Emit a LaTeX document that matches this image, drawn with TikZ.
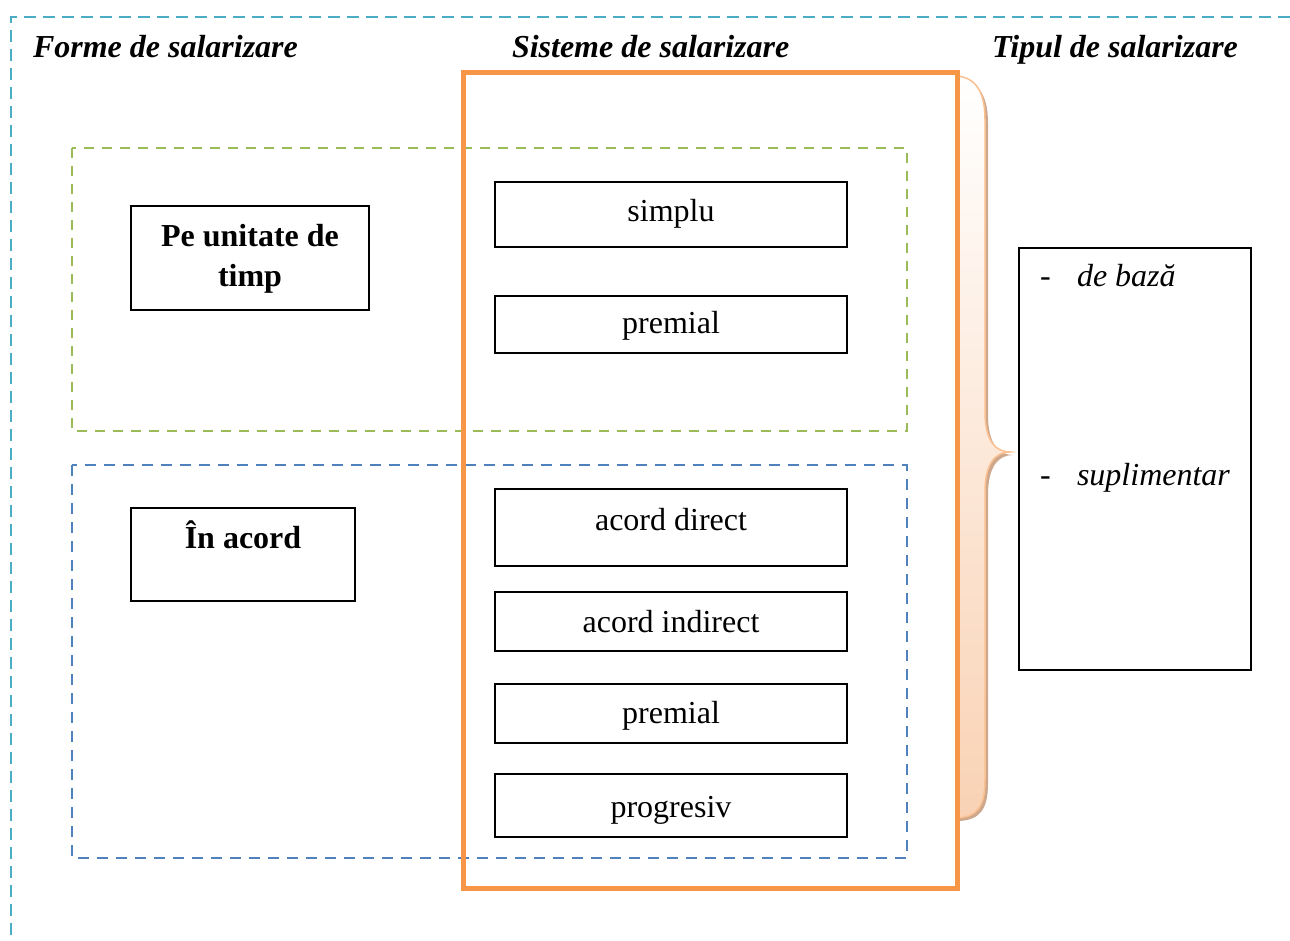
\documentclass[tikz,border=0pt]{standalone}
\usepackage{fontspec}
\setmainfont{Liberation Serif}
\definecolor{frameaqua}{RGB}{75,172,198}
\definecolor{timegreen}{RGB}{155,187,89}
\definecolor{piecblue}{RGB}{79,129,189}
\definecolor{sysorange}{RGB}{247,150,70}
\definecolor{bracefill}{RGB}{249,210,180}
\definecolor{braceedge}{RGB}{250,192,144}
\definecolor{braceshadow}{RGB}{205,168,140}
\begin{document}
\begin{tikzpicture}[x=1pt,y=-1pt,
  every node/.style={font=\fontsize{32}{40}\selectfont, inner sep=0pt, outer sep=0pt},
  box/.style={draw=black, line width=2pt, inner sep=0pt, minimum width=#1},
  box/.default=352pt,
  lbl/.style={anchor=base},
  boldlbl/.style={anchor=base, font=\fontsize{32}{40}\selectfont\bfseries},
  head/.style={anchor=base west, font=\fontsize{32}{40}\selectfont\bfseries\itshape},
  item/.style={anchor=base west, font=\fontsize{32}{40}\selectfont\itshape},
  bullet/.style={anchor=base west},
  outerframe/.style={draw=frameaqua, line width=2pt, dash pattern=on 12pt off 7pt},
  timegroup/.style={draw=timegreen, line width=2.5pt, dash pattern=on 10pt off 8pt},
  piecegroup/.style={draw=piecblue, line width=2.5pt, dash pattern=on 11pt off 8pt},
  sysframe/.style={draw=sysorange, line width=5pt},
]
\useasboundingbox (0,0) rectangle (1290,941);

% outer dashed frame (open to the right and bottom)
\draw[outerframe] (1290,17) -- (11,17) -- (11,941);

% column headings
\node[head] (hforme) at (33,58) {Forme de salarizare};
\node[head] (hsist)  at (512,58) {Sisteme de salarizare};
\node[head] (htip)   at (992,58) {Tipul de salarizare};

% grouping frames
\draw[timegroup]  (72,148) rectangle (907,431);
\draw[piecegroup] (72,465) rectangle (907,858);

% curly brace joining the systems to the pay types
\fill[braceshadow] (959,79) .. controls (980,81) and (988,98) .. (988,123) -- (988,415)
  .. controls (988,443) and (998,455) .. (1013,455)
  .. controls (998,455) and (988,467) .. (988,495) -- (988,783)
  .. controls (988,808) and (981,820) .. (959,821) -- cycle;
\shade[top color=white, bottom color=bracefill, draw=braceedge, line width=1.5pt]
  (957,76) .. controls (978,78) and (985,95) .. (985,120) -- (985,412)
  .. controls (985,440) and (995,452) .. (1010,452)
  .. controls (995,452) and (985,464) .. (985,492) -- (985,780)
  .. controls (985,805) and (978,817) .. (957,818) -- cycle;

% wage forms
\node[box=238pt, minimum height=104pt] (unitate) at (250,258) {};
\node[boldlbl] (unitate1) at (250,247) {Pe unitate de};
\node[boldlbl] (unitate2) at (250,287) {timp};
\node[box=224pt, minimum height=93pt] (acord) at (243,554.5) {};
\node[boldlbl] (acordt) at (243,548) {În acord};

% wage systems
\node[box, minimum height=65pt] (simplu) at (671,214.5) {};
\node[lbl] (simplut) at (671,222) {simplu};
\node[box, minimum height=57pt] (premA) at (671,324.5) {};
\node[lbl] (premAt) at (671,334) {premial};
\node[box, minimum height=77pt] (direct) at (671,527.5) {};
\node[lbl] (directt) at (671,530) {acord direct};
\node[box, minimum height=59pt] (indirect) at (671,621.5) {};
\node[lbl] (indirectt) at (671,632) {acord indirect};
\node[box, minimum height=59pt] (premB) at (671,713.5) {};
\node[lbl] (premBt) at (671,723) {premial};
\node[box, minimum height=63pt] (progresiv) at (671,805.5) {};
\node[lbl] (progresivt) at (671,817) {progresiv};

% systems frame
\draw[sysframe] (463,73) rectangle (957,888);

% wage types
\node[box=232pt, minimum height=422pt] (tip) at (1135,459) {};
\node[bullet] (d1) at (1040,287) {-};
\node[item] (baza) at (1077,287) {de bază};
\node[bullet] (d2) at (1040,485) {-};
\node[item] (supl) at (1077,485) {suplimentar};
\end{tikzpicture}
\end{document}
